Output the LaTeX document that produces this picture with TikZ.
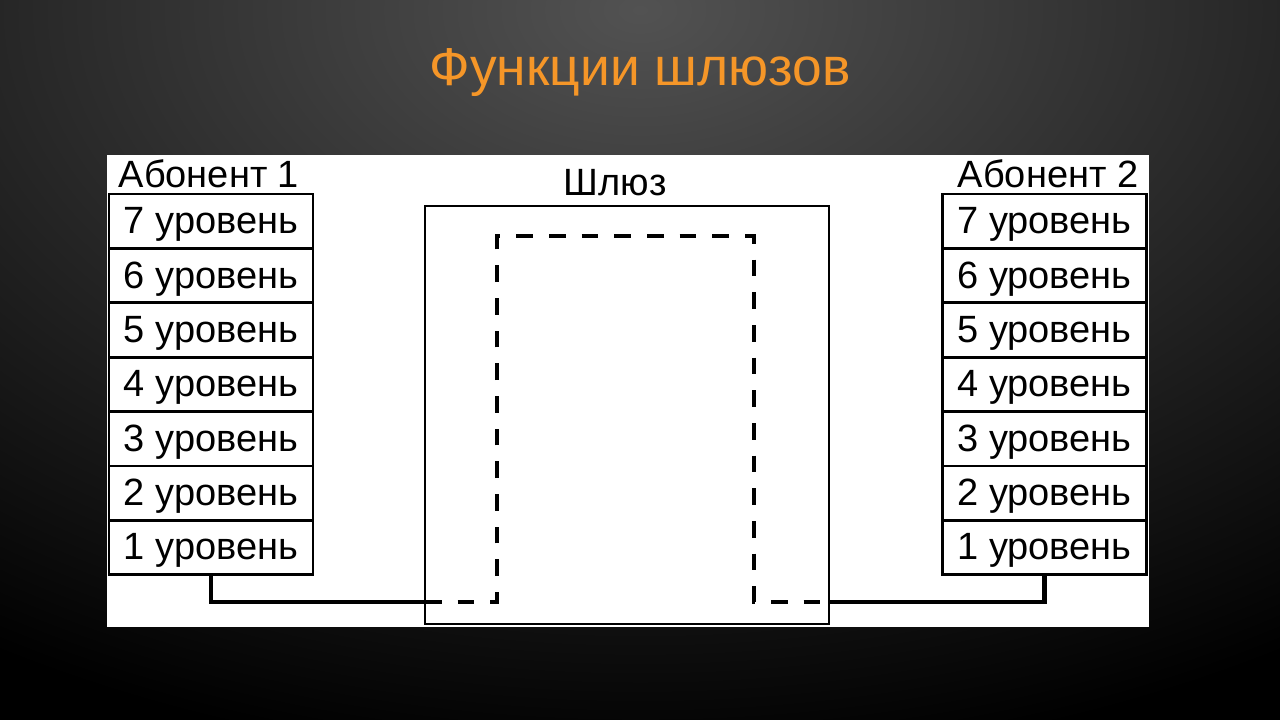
\documentclass[tikz,border=0pt]{standalone}
\usepackage{fontspec}
\setmainfont{Liberation Sans}
\usetikzlibrary{positioning}
\definecolor{titleorange}{RGB}{245,150,40}
\definecolor{bgtop}{RGB}{82,82,82}
\definecolor{bgbottom}{RGB}{0,0,0}

\begin{document}
\begin{tikzpicture}[x=0.75pt,y=0.75pt,yscale=-1,xscale=1,
  lvlbox/.style={draw,line width=2.2pt,outer sep=0pt,inner sep=0pt,
    minimum width=153pt,minimum height=40.8pt,text depth=0.12em,
    font=\fontsize{28.5}{31}\selectfont},
  gwbox/.style={draw,line width=2.2pt,outer sep=0pt,minimum width=303pt,minimum height=313.5pt},
  conn/.style={line width=3.6pt,line join=miter},
  dashline/.style={line width=2.4pt,dash pattern=on 12.5pt off 12pt}]
\useasboundingbox (0,0) rectangle (1280,720);

% background
\fill[bgbottom] (0,0) rectangle (1280,720);
\begin{scope}
\clip (0,0) rectangle (1280,720);
\shade[inner color=bgtop,outer color=bgbottom] (640,10) ellipse (1200 and 760);
\end{scope}

% Text Node
\node[text=titleorange,font=\fontsize{40}{44}\selectfont] (title) at (640,73) {Функции шлюзов};

%Shape: Rectangle
\fill[white] (107,155) rectangle (1149,627);

% left stack
\node[lvlbox] (l7) at (211,221.2) {7 уровень};
\foreach \i/\j in {6/7,5/6,4/5,3/4,2/3,1/2}
  \node[lvlbox,below=0pt of l\j] (l\i) {\i\ уровень};
% right stack
\node[lvlbox] (r7) at (1044.5,221.2) {7 уровень};
\foreach \i/\j in {6/7,5/6,4/5,3/4,2/3,1/2}
  \node[lvlbox,below=0pt of r\j] (r\i) {\i\ уровень};

% gateway
\node[gwbox] (gw) at (627,415) {};

% Text Node
\node[anchor=west,font=\fontsize{28.5}{31}\selectfont] (ab1) at (114,174) {Абонент 1};
\node[anchor=east,font=\fontsize{28.5}{31}\selectfont] (ab2) at (1143,174) {Абонент 2};
\node[font=\fontsize{28.5}{31}\selectfont] (gwlabel) at (615,183) {Шлюз};

%Straight Lines
\coordinate (gwin) at (gw.west |- 0,602);
\coordinate (gwout) at (gw.east |- 0,602);
\draw[conn] (l1.south) |- (gwin);
\draw[conn] (gwout) -| (r1.south);
\draw[dashline] (gwin) -- (497,602) -- (497,236) -- (754,236) -- (754,602) -- (gwout);
\end{tikzpicture}
\end{document}
